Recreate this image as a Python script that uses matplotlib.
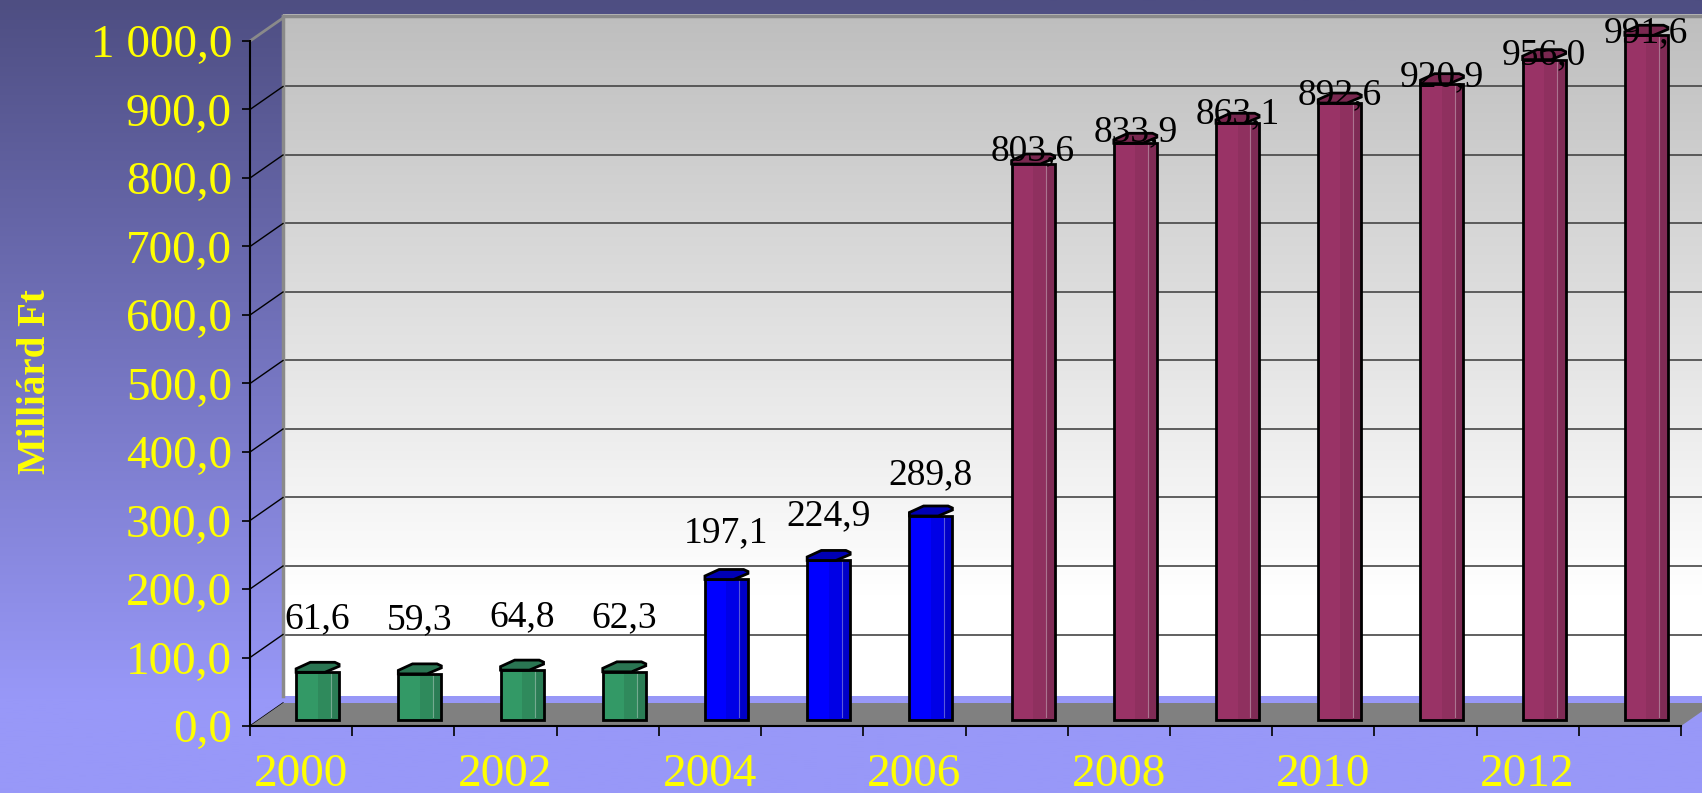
import numpy as np
import matplotlib
matplotlib.use("Agg")
import matplotlib.pyplot as plt
from matplotlib.patches import Polygon
import matplotlib.colors as mcolors

# ---------------- data ----------------
years = list(range(2000, 2014))
values = [61.6, 59.3, 64.8, 62.3, 197.1, 224.9, 289.8,
          803.6, 833.9, 863.1, 892.6, 920.9, 956.0, 991.6]
groups = ["g", "g", "g", "g", "b", "b", "b",
          "m", "m", "m", "m", "m", "m", "m"]
value_labels = [f"{v:.1f}".replace(".", ",") for v in values]
y_ticks = [0, 100, 200, 300, 400, 500, 600, 700, 800, 900, 1000]
y_ticklabels = ["0,0", "100,0", "200,0", "300,0", "400,0", "500,0",
                "600,0", "700,0", "800,0", "900,0", "1 000,0"]
x_label_years = [2000, 2002, 2004, 2006, 2008, 2010, 2012]
y_title = "Milliárd Ft"

# ---------------- style ----------------
colors = {"g": ("#339966", "#2f8a5c", "#2b7d55", "#2a7552"),
          "b": ("#0000ff", "#0000e6", "#0000c8", "#0000b4"),
          "m": ("#993366", "#8f305f", "#7f2b55", "#7a2850")}
SERIF = ["Liberation Serif", "DejaVu Serif"]
YELLOW = "#ffff00"

W, H = 1702, 793
fig = plt.figure(figsize=(W / 100, H / 100), dpi=100)

# background gradient
bg = fig.add_axes([0, 0, 1, 1], zorder=-10)
top = np.array(mcolors.to_rgb("#4e4e82"))
bot = np.array(mcolors.to_rgb("#9898f8"))
t = np.clip(np.linspace(0, 1, 400) / 0.88, 0, 1)[:, None]
grad = (top * (1 - t) + bot * t)[:, None, :]
bg.imshow(grad, aspect="auto", extent=[0, 1, 0, 1])
bg.set_xlim(0, 1); bg.set_ylim(0, 1)
bg.axis("off")

# main axes = front plane
ax = fig.add_axes([250 / W, 67 / H, 1431 / W, 685 / H])
ax.patch.set_alpha(0)
n = len(years)
sx = n / 1431.0          # data units per px (x)
sy = 1000 / 685.0        # data units per px (y)
DX, DY = 33 * sx, 23 * sy
MX, MY = DX / 2, DY / 2

# back wall gradient
wt = np.linspace(0, 1, 300)[:, None]
wtop = np.array(mcolors.to_rgb("#bebebe"))
wbot = np.array(mcolors.to_rgb("#ffffff"))
tt = np.clip(wt / 0.85, 0, 1)
wgrad = (wtop * (1 - tt) + wbot * tt)[:, None, :]
ax.imshow(wgrad, aspect="auto", extent=[DX, n + 1, 10 + DY, 1000 + DY + 3 * sy],
          zorder=0, clip_on=False, interpolation="bilinear")

# wall gridlines
for v in y_ticks[1:-1]:
    ax.plot([DX, n + 1], [v + DY, v + DY], color="#454545", lw=1.2,
            zorder=1, clip_on=False)
# wall border
ax.plot([DX, DX], [10 + DY, 1000 + DY + 2 * sy], color="#8a8a8a", lw=2.5,
        zorder=1.5, clip_on=False)
ax.plot([DX, n + 1], [1000 + DY + 2 * sy] * 2, color="#8a8a8a", lw=2.5,
        zorder=1.5, clip_on=False)
ax.plot([0, DX], [1000, 1000 + DY], color="#8a8a8a", lw=2, zorder=1.5,
        clip_on=False)
# diagonal tick connectors
for v in y_ticks[:-1]:
    ax.plot([0, DX], [v, v + DY], color="black", lw=1, zorder=1.5,
            clip_on=False)

# floor
floor = Polygon([(0, 0), (n, 0), (n + DX, DY), (DX, DY)], closed=True,
                facecolor="#808080", edgecolor="none", zorder=2, clip_on=False)
ax.add_patch(floor)

# bars
w = 43 * sx
base = MY - 5 * sy
xpos = np.arange(n) + 0.5 + MX
for i, (xc, v, g) in enumerate(zip(xpos, values, groups)):
    c_main, c_mid, c_dark, c_cap = colors[g]
    left = xc - w / 2
    h = v + MY - base
    ax.bar([xc], [h], width=w, bottom=base, color=c_main, edgecolor="none",
           zorder=3, clip_on=False)
    ax.bar([left + 0.65 * w], [h], width=0.3 * w, bottom=base, color=c_mid,
           edgecolor="none", zorder=3.1, clip_on=False)
    ax.bar([left + 0.9 * w], [h], width=0.2 * w, bottom=base, color=c_dark,
           edgecolor="none", zorder=3.2, clip_on=False)
    ax.plot([left + 0.8 * w] * 2, [base + 3 * sy, base + h], color="white",
            lw=0.8, alpha=0.35, zorder=3.3, clip_on=False)
    ax.bar([xc], [h], width=w, bottom=base, color="none", edgecolor="black",
           lw=2, zorder=3.4, clip_on=False)
    ytop = v + MY
    cap_pts = [(0, 0), (0.67, 0), (1.0, 6), (1.0, 8), (0.9, 10),
               (0.33, 10), (0, 3.5)]
    cap = Polygon([(left + fx * w, ytop + py * sy) for fx, py in cap_pts],
                  closed=True, facecolor=c_cap, edgecolor="black", lw=2,
                  zorder=3.5, clip_on=False)
    ax.add_patch(cap)
    ax.text(xc, v + 100 - 0.08 * v, value_labels[i], ha="center",
            va="center", fontsize=27, family=SERIF, color="black",
            zorder=5, clip_on=False)

ax.set_xlim(0, n)
ax.set_ylim(0, 1000)

for s in ["top", "right"]:
    ax.spines[s].set_visible(False)
for s in ["left", "bottom"]:
    ax.spines[s].set_color("black")
    ax.spines[s].set_linewidth(1.5)
    ax.spines[s].set_zorder(4)

ax.set_yticks(y_ticks)
ax.set_yticklabels(y_ticklabels, family=SERIF, fontsize=34, color=YELLOW)
ax.tick_params(axis="y", length=6, width=1.2, color="black", pad=7)

ax.set_xticks([years.index(y) + 0.5 for y in x_label_years])
ax.set_xticklabels([str(y) for y in x_label_years], family=SERIF,
                   fontsize=34, color=YELLOW)
ax.set_xticks(np.arange(0, n + 1), minor=True)
ax.tick_params(axis="x", which="major", length=0, pad=20)
ax.tick_params(axis="x", which="minor", length=7, width=1.2, color="black")

fig.text(36 / W, 1 - 382 / H, y_title, rotation=90, ha="center",
         va="center", fontsize=28, fontweight="bold", family=SERIF,
         color=YELLOW)

fig.savefig("out.png", dpi=100)
